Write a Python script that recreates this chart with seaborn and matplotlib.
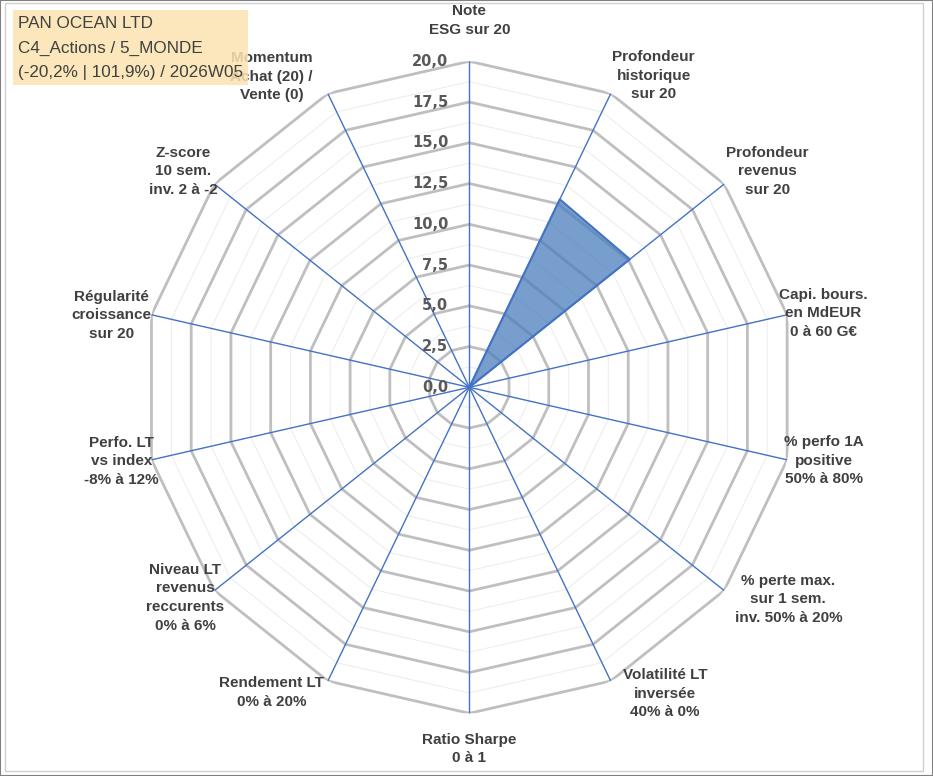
import numpy as np
import pandas as pd
import matplotlib
matplotlib.use("Agg")
import matplotlib.pyplot as plt
import seaborn as sns
from matplotlib.patches import Rectangle
from matplotlib.transforms import offset_copy

# ---------------- data ----------------
categories = [
    "Note\nESG sur 20",
    "Profondeur\nhistorique\nsur 20",
    "Profondeur\nrevenus\nsur 20",
    "Capi. bours.\nen MdEUR\n0 à 60 G€",
    "% perfo 1A\npositive\n50% à 80%",
    "% perte max.\nsur 1 sem.\ninv. 50% à 20%",
    "Volatilité LT\ninversée\n40% à 0%",
    "Ratio Sharpe\n0 à 1",
    "Rendement LT\n0% à 20%",
    "Niveau LT\nrevenus\nreccurents\n0% à 6%",
    "Perfo. LT\nvs index\n-8% à 12%",
    "Régularité\ncroissance\nsur 20",
    "Z-score\n10 sem.\ninv. 2 à -2",
    "Momentum\nAchat (20) /\nVente (0)",
]
values = [0.0, 12.8, 12.6, 0.0, 0.0, 0.0, 0.0, 0.0, 0.0, 0.0, 0.0, 0.0, 0.0, 0.0]
tick_values = [0.0, 2.5, 5.0, 7.5, 10.0, 12.5, 15.0, 17.5, 20.0]
tick_labels = ["0,0", "2,5", "5,0", "7,5", "10,0", "12,5", "15,0", "17,5", "20,0"]
minor_levels = [1.25, 3.75, 6.25, 8.75, 11.25, 13.75, 16.25, 18.75]
title_lines = ["PAN OCEAN LTD", "C4_Actions / 5_MONDE", "(-20,2% | 101,9%) / 2026W05"]

# label placement (angle in degrees clockwise from top, radius in data units)
label_angle_deg = [0, 30.6, 54.1, 78.2, 101.7, 123.6, 147.4, 180, 212.9, 233.5, 258.0, 281.4, 307.0, 327.5]
label_radius = [22.5, 22.2, 22.6, 22.2, 22.2, 23.5, 22.3, 22.2, 22.3, 21.7, 21.8, 22.4, 22.0, 22.6]

# ---------------- style ----------------
sns.set_theme(style="white")
plt.rcParams['font.family'] = ['Liberation Sans', 'DejaVu Sans']

W, H = 933, 776
fig = plt.figure(figsize=(W / 100, H / 100), dpi=100)
fig.patch.set_facecolor("white")

cx, cy, R = 469.3, 387.3, 326.0
ax = fig.add_axes([(cx - R) / W, (H - cy - R) / H, 2 * R / W, 2 * R / H], projection="polar")
ax.set_theta_zero_location("N")
ax.set_theta_direction(-1)
ax.grid(False)
ax.spines["polar"].set_visible(False)
ax.patch.set_alpha(0)

n = len(categories)
angles = np.linspace(0, 2 * np.pi, n, endpoint=False)
closed = np.append(angles, angles[0])

for m in minor_levels:
    ax.plot(closed, [m] * (n + 1), color="#EEEEEE", lw=0.8, zorder=1)
for lvl in tick_values[1:]:
    ax.plot(closed, [lvl] * (n + 1), color="#BFBFBF", lw=2.0, zorder=2, solid_joinstyle="miter")

df = pd.DataFrame({"theta": closed, "r": np.append(values, values[0])})
ax.fill(df["theta"], df["r"], color="#4A7EBB", alpha=0.75, lw=0, zorder=3)
sns.lineplot(data=df, x="theta", y="r", sort=False, estimator=None, ax=ax,
             color="#4472C4", lw=1.5, zorder=4)

for a in angles:
    ax.plot([a, a], [0, 20], color="#4472C4", lw=1.0, zorder=5)

ax.set_xlabel("")
ax.set_ylabel("")
ax.set_xticks([])
ax.set_yticks([])
ax.set_ylim(0, 20)

trans = offset_copy(ax.transData, fig=fig, x=-21, y=0, units="dots")
for v, lab in zip(tick_values, tick_labels):
    ax.text(0, v, lab, transform=trans, ha="right", va="center", fontsize=10.5,
            family=["DejaVu Sans"], fontweight="bold", color="#595959", zorder=6)

for i, cat in enumerate(categories):
    ax.text(np.deg2rad(label_angle_deg[i]), label_radius[i], cat, ha="center", va="center",
            multialignment="center", fontsize=11, fontweight="bold", color="#404040",
            linespacing=1.42, zorder=6)

# title box (semi-transparent, over the chart)
fig.patches.append(Rectangle((13 / W, 1 - 85 / H), 235 / W, 75 / H, transform=fig.transFigure,
                             facecolor="#FBE3B0", edgecolor="none", alpha=0.85, zorder=10))
for i, line in enumerate(title_lines):
    fig.text(18 / W, 1 - (24 + 24.5 * i) / H, line, ha="left", va="center", fontsize=12.3,
             color="#404040", zorder=11)

# frames
fig.patches.append(Rectangle((5 / W, 1 - 771 / H), 918 / W, 768 / H, transform=fig.transFigure,
                             facecolor="none", edgecolor="#D0D0D0", lw=1.0, zorder=12))
fig.patches.append(Rectangle((0, 0), 1, 1, transform=fig.transFigure,
                             facecolor="none", edgecolor="#808080", lw=1.5, zorder=12))

fig.savefig("out.png", dpi=100)
